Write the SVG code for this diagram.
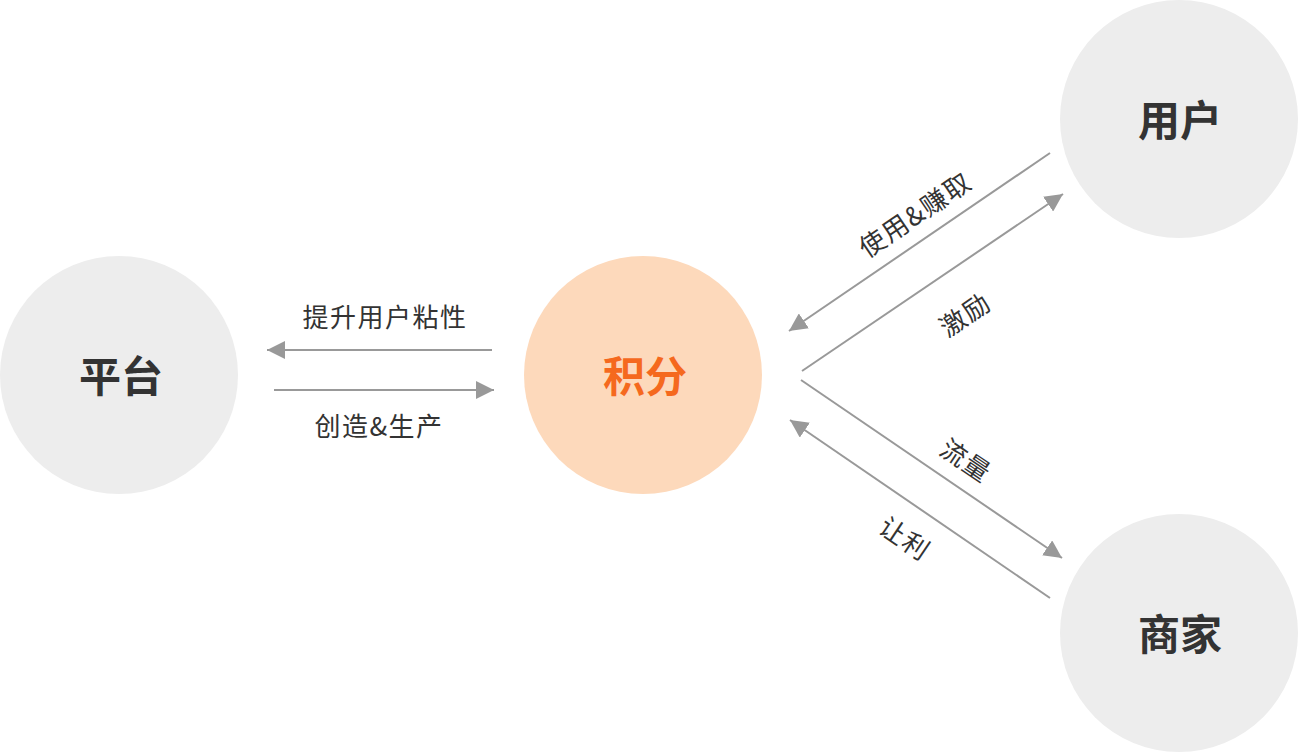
<svg xmlns="http://www.w3.org/2000/svg" width="1298" height="752" viewBox="0 0 1298 752">
<style>
.node{fill:#EDEDED}
.core{fill:#FDD9BB}
.nt{font-family:"Noto Sans CJK SC","Noto Sans",sans-serif;font-size:42px;font-weight:bold;fill:#333;text-anchor:middle;dominant-baseline:central}
.ct{fill:#F5691E}
.lbl{font-family:"Noto Sans CJK SC","Noto Sans",sans-serif;font-size:26px;fill:#333;text-anchor:middle;dominant-baseline:central;letter-spacing:1.5px}
.ln{stroke:#999;stroke-width:2;fill:none;marker-end:url(#ah)}
</style>
<defs>
<marker id="ah" markerUnits="userSpaceOnUse" markerWidth="20" markerHeight="18" refX="18" refY="9" orient="auto">
<path d="M0,0 L18,9 L0,18 Z" fill="#999"/>
</marker>
</defs>
<rect width="1298" height="752" fill="#fff"/>
<g id="node-platform"><circle class="node" cx="119" cy="375" r="119"/><text class="nt" x="121" y="373">平台</text></g>
<g id="node-points"><circle class="core" cx="643" cy="375" r="119"/><text class="nt ct" x="645" y="373">积分</text></g>
<g id="node-user"><circle class="node" cx="1179" cy="119" r="119"/><text class="nt" x="1180" y="117">用户</text></g>
<g id="node-merchant"><circle class="node" cx="1179" cy="633" r="119"/><text class="nt" x="1180" y="631">商家</text></g>
<g id="connectors">
<line class="ln" x1="492" y1="350" x2="267" y2="350"/>
<line class="ln" x1="274" y1="390" x2="494" y2="390"/>
<line class="ln" x1="1050" y1="153" x2="789" y2="331"/>
<line class="ln" x1="802" y1="371" x2="1063" y2="194"/>
<line class="ln" x1="801" y1="380" x2="1062" y2="558"/>
<line class="ln" x1="1050" y1="598" x2="790" y2="420"/>
</g>
<g id="labels">
<text class="lbl" x="385" y="315">提升用户粘性</text>
<text class="lbl" x="379" y="424">创造&amp;生产</text>
<text class="lbl" transform="translate(914,213) rotate(-34)">使用&amp;赚取</text>
<text class="lbl" transform="translate(964,313) rotate(-34)">激励</text>
<text class="lbl" transform="translate(967,459) rotate(34)">流量</text>
<text class="lbl" transform="translate(906,537) rotate(34)">让利</text>
</g>
</svg>
